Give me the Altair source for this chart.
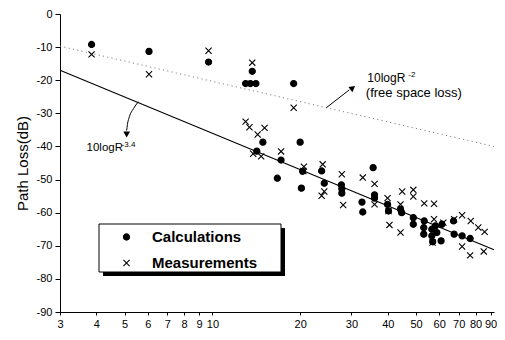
import altair as alt
import pandas as pd

# ---- data ----
calc_r = [3.85, 6.06, 9.7, 13.7, 13.0, 13.5, 14.1, 19.0, 14.9, 14.2, 20.0, 17.2, 16.7,
          20.2, 20.4, 23.7, 24.2, 27.7, 27.8, 27.8, 35.6, 36.0, 36.0, 32.6, 32.8, 39.9,
          40.2, 44.2, 44.6, 48.9, 48.9, 53.3, 53.1, 53.1, 56.6, 56.6, 58.2, 58.9, 60.9,
          61.3, 57.0, 67.2, 67.5, 71.9, 76.6]
calc_db = [-9.2, -11.3, -14.5, -17.3, -21.0, -21.0, -21.0, -21.0, -38.7, -41.4, -38.7, -44.1, -49.6,
           -52.6, -47.5, -47.4, -51.1, -51.6, -52.8, -54.1, -46.4, -54.6, -55.6, -56.8, -59.8, -57.5,
           -59.5, -59.0, -60.0, -61.5, -63.5, -62.5, -64.5, -66.5, -65.0, -67.0, -64.0, -66.0, -68.5,
           -63.5, -68.8, -62.5, -66.5, -67.0, -67.8]

meas_r = [3.85, 6.06, 9.7, 13.7, 19.0, 13.0, 13.4, 15.1, 14.3, 13.8, 14.7, 17.2, 20.5,
          20.6, 23.9, 24.2, 23.7, 27.8, 28.1, 32.8, 36.0, 36.0, 39.9, 40.2, 40.5, 44.8,
          48.9, 48.9, 44.2, 44.2, 53.3, 57.6, 57.6, 56.9, 62.0, 67.5, 71.9, 77.0, 81.7,
          85.9, 71.9, 76.6, 85.3]
meas_db = [-12.2, -18.2, -11.1, -14.7, -28.3, -32.5, -34.2, -34.4, -36.4, -42.2, -43.0, -41.5, -47.4,
           -46.1, -45.4, -53.6, -54.9, -48.4, -57.7, -49.4, -51.3, -57.5, -55.6, -59.5, -63.7, -53.6,
           -53.1, -55.1, -57.5, -66.0, -57.2, -57.3, -62.0, -69.0, -63.0, -62.0, -60.8, -62.5, -64.5,
           -65.8, -70.2, -72.9, -71.7]

series_names = ["Calculations", "Measurements"]

free_r = [3.0, 92.5]
free_db = [-9.7, -40.0]
fit_r = [3.0, 92.5]
fit_db = [-17.0, -71.2]

x_ticks = [3, 4, 5, 6, 7, 8, 9, 10, 20, 30, 40, 50, 60, 70, 80, 90]
y_ticks = [-90, -80, -70, -60, -50, -40, -30, -20, -10, 0]

r34_text = ["10logR"]
r34_r = [3.70]
r34_db = [-41.4]
r2_text = ["10logR"]
r2_r = [34.0]
r2_db = [-20.4]
fs_text = ["(free space loss)"]
fs_r = [33.6]
fs_db = [-25.0]
sup_text = ["-3.4", "-2"]
sup_r = [4.88, 47.0]
sup_db = [-40.2, -18.9]

arrow1_r = [24.6, 29.5]
arrow1_db = [-28.3, -22.9]
arrow1_head_r = [30.3]
arrow1_head_db = [-22.3]
arrow2_r = [5.57, 5.36, 5.19, 5.11, 5.08]
arrow2_db = [-26.5, -28.6, -31.0, -33.4, -35.2]
arrow2_head_r = [5.08]
arrow2_head_db = [-36.4]

FONT = "Liberation Sans, Arial, Helvetica, sans-serif"
X_PATH = "M-1,-1L1,1M-1,1L1,-1"

pts = pd.DataFrame({
    "R": calc_r + meas_r,
    "dB": calc_db + meas_db,
    "series": [series_names[0]] * len(calc_r) + [series_names[1]] * len(meas_r),
})

xscale = alt.Scale(type="log", domain=[3, 92.5], nice=False)
yscale = alt.Scale(domain=[-90, 0], nice=False)

xaxis = alt.Axis(values=x_ticks, format="d", title=None, grid=False, tickSize=3,
                 labelPadding=3, labelOverlap=False, labelFlush=False, labelBound=False,
                 labelFont=FONT, labelFontSize=11, labelColor="black",
                 domainColor="black", tickColor="black")
yaxis = alt.Axis(values=y_ticks, title="Path Loss(dB)", grid=False, tickSize=5,
                 labelPadding=3, labelOverlap=False,
                 labelExpr="datum.value == 0 ? '0' : '-' + abs(datum.value)",
                 labelFont=FONT, labelFontSize=11, labelColor="black",
                 titleFont=FONT, titleFontSize=15, titleFontWeight="normal",
                 titleColor="black", titlePadding=6,
                 domainColor="black", tickColor="black")


def X():
    return alt.X("R:Q", scale=xscale, axis=xaxis)


def Y():
    return alt.Y("dB:Q", scale=yscale, axis=yaxis)


legend = alt.Legend(title=None, orient="none", legendX=59, legendY=215.5,
                    padding=0, rowPadding=10, labelOffset=18,
                    labelFont=FONT, labelFontSize=15, labelFontWeight="bold",
                    labelColor="black", symbolSize=38, symbolStrokeWidth=1.1)

free_line = alt.Chart(pd.DataFrame({"R": free_r, "dB": free_db})).mark_line(
    color="#808080", strokeWidth=1, strokeDash=[1.2, 3.2]).encode(x=X(), y=Y())
fit_line = alt.Chart(pd.DataFrame({"R": fit_r, "dB": fit_db})).mark_line(
    color="black", strokeWidth=1.1).encode(x=X(), y=Y())

dummy = pd.DataFrame({"a": [0]})
shadow = alt.Chart(dummy).mark_rect(color="black").encode(
    x=alt.value(43), x2=alt.value(225), y=alt.value(214), y2=alt.value(262))
box = alt.Chart(dummy).mark_rect(fill="white", stroke="black", strokeWidth=1).encode(
    x=alt.value(39), x2=alt.value(221), y=alt.value(210), y2=alt.value(258))

points = alt.Chart(pts).mark_point(opacity=1, size=38, strokeWidth=1.1).encode(
    x=X(), y=Y(),
    shape=alt.Shape("series:N", scale=alt.Scale(domain=series_names, range=["circle", X_PATH]),
                    legend=legend),
    fill=alt.Fill("series:N", scale=alt.Scale(domain=series_names, range=["black", "transparent"]),
                  legend=legend),
    stroke=alt.Stroke("series:N", scale=alt.Scale(domain=series_names, range=["black", "black"]),
                      legend=legend),
)

r34_label = alt.Chart(pd.DataFrame({"R": r34_r, "dB": r34_db, "t": r34_text})).mark_text(
    font=FONT, fontSize=11.5, align="left", baseline="alphabetic", color="black").encode(
    x=X(), y=Y(), text="t:N")
r2_label = alt.Chart(pd.DataFrame({"R": r2_r, "dB": r2_db, "t": r2_text})).mark_text(
    font=FONT, fontSize=12, align="left", baseline="alphabetic", color="black").encode(
    x=X(), y=Y(), text="t:N")
fs_label = alt.Chart(pd.DataFrame({"R": fs_r, "dB": fs_db, "t": fs_text})).mark_text(
    font=FONT, fontSize=13, align="left", baseline="alphabetic", color="black").encode(
    x=X(), y=Y(), text="t:N")
sup_labels = alt.Chart(pd.DataFrame({"R": sup_r, "dB": sup_db, "t": sup_text})).mark_text(
    font=FONT, fontSize=8, align="left", baseline="alphabetic", color="black").encode(
    x=X(), y=Y(), text="t:N")

a1 = alt.Chart(pd.DataFrame({"R": arrow1_r, "dB": arrow1_db})).mark_line(
    color="black", strokeWidth=1).encode(x=X(), y=Y())
a1h = alt.Chart(pd.DataFrame({"R": arrow1_head_r, "dB": arrow1_head_db})).mark_point(
    shape="triangle-up", filled=True, color="black", opacity=1, size=45, angle=53).encode(
    x=X(), y=Y())
a2 = alt.Chart(pd.DataFrame({"R": arrow2_r, "dB": arrow2_db, "i": list(range(len(arrow2_r)))})).mark_line(
    color="black", strokeWidth=1, interpolate="monotone").encode(x=X(), y=Y(), order="i:Q")
a2h = alt.Chart(pd.DataFrame({"R": arrow2_head_r, "dB": arrow2_head_db})).mark_point(
    shape="triangle-up", filled=True, color="black", opacity=1, size=45, angle=180).encode(
    x=X(), y=Y())

chart = alt.layer(
    free_line, fit_line, shadow, box, points, r34_label, r2_label, fs_label, sup_labels,
    a1, a1h, a2, a2h
).properties(
    width=434, height=298,
    autosize=alt.AutoSizeParams(type="none"),
    padding={"left": 52, "top": 6, "right": 3, "bottom": 20},
).configure_view(stroke=None)

chart.save("out.html", embed_options={"renderer": "svg", "actions": False})
